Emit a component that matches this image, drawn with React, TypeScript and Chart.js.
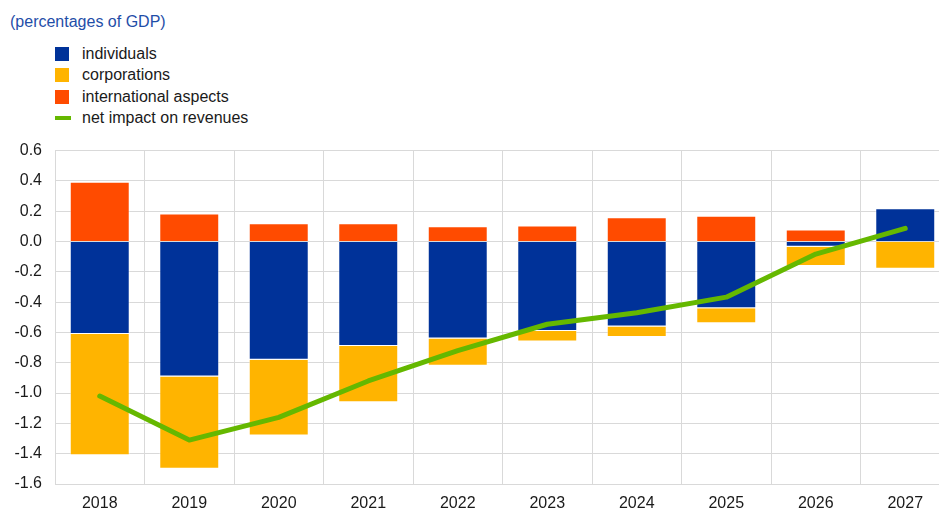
import React, { useEffect, useRef } from "react";
import { Chart, registerables } from "chart.js";

Chart.register(...registerables);

const categories = ["2018", "2019", "2020", "2021", "2022", "2023", "2024", "2025", "2026", "2027"];
const individuals = [-0.61, -0.89, -0.78, -0.69, -0.64, -0.59, -0.56, -0.44, -0.035, 0.22];
const corporations = [-0.80, -0.61, -0.50, -0.37, -0.18, -0.07, -0.07, -0.10, -0.127, -0.18];
const internationalAspects = [0.395, 0.185, 0.12, 0.12, 0.10, 0.105, 0.16, 0.17, 0.08, 0];
const netImpact = [-1.02, -1.31, -1.16, -0.92, -0.72, -0.546, -0.47, -0.367, -0.083, 0.087];
const yTicks = [0.6, 0.4, 0.2, 0.0, -0.2, -0.4, -0.6, -0.8, -1.0, -1.2, -1.4, -1.6];

const titleText = "(percentages of GDP)";
const legendItems = [
  { label: "individuals", color: "#003299", kind: "box" },
  { label: "corporations", color: "#ffb400", kind: "box" },
  { label: "international aspects", color: "#ff4b00", kind: "box" },
  { label: "net impact on revenues", color: "#65b800", kind: "line" },
];

const FONT = "Arial, 'Liberation Sans', Helvetica, sans-serif";

export default function App() {
  const ref = useRef<HTMLCanvasElement | null>(null);

  useEffect(() => {
    if (!ref.current) return;
    const barBorder = "rgba(255,255,255,0.45)";
    const chart = new Chart(ref.current, {
      type: "bar",
      data: {
        labels: categories,
        datasets: [
          {
            type: "line",
            label: legendItems[3].label,
            data: netImpact,
            borderColor: legendItems[3].color,
            backgroundColor: legendItems[3].color,
            borderWidth: 5,
            pointRadius: 0,
            tension: 0,
            borderCapStyle: "round",
            borderJoinStyle: "round",
            order: 0,
          } as any,
          {
            label: legendItems[0].label,
            data: individuals,
            backgroundColor: legendItems[0].color,
            borderColor: barBorder,
            borderWidth: 1,
            stack: "s",
            order: 1,
          },
          {
            label: legendItems[1].label,
            data: corporations,
            backgroundColor: legendItems[1].color,
            borderColor: barBorder,
            borderWidth: 1,
            stack: "s",
            order: 1,
          },
          {
            label: legendItems[2].label,
            data: internationalAspects,
            backgroundColor: legendItems[2].color,
            borderColor: barBorder,
            borderWidth: 1,
            stack: "s",
            order: 1,
          },
        ],
      },
      options: {
        animation: false,
        responsive: false,
        maintainAspectRatio: false,
        devicePixelRatio: 1,
        layout: { padding: { top: 19, right: 0, bottom: 0, left: 0 } },
        plugins: { legend: { display: false }, tooltip: { enabled: false }, title: { display: false } },
        datasets: { bar: { barPercentage: 0.67, categoryPercentage: 1 } },
        scales: {
          x: {
            stacked: true,
            grid: { color: "#d9d9d9", lineWidth: 1, offset: true, drawTicks: false },
            border: { display: true, color: "#d9d9d9" },
            ticks: { color: "#1a1a1a", font: { family: FONT, size: 16 }, padding: 10, maxRotation: 0 },
            afterFit: (s: any) => { s.height = 29; },
          },
          y: {
            stacked: true,
            min: -1.6,
            max: 0.6,
            afterBuildTicks: (s: any) => { s.ticks = yTicks.map((v) => ({ value: v })); },
            grid: { color: "#d9d9d9", lineWidth: 1, drawTicks: false },
            border: { display: true, color: "#d9d9d9" },
            ticks: {
              color: "#1a1a1a",
              font: { family: FONT, size: 16 },
              padding: 13,
              callback: (v: any) => Number(v).toFixed(1),
            },
            afterFit: (s: any) => { s.width = 55; },
          },
        },
      },
    });
    return () => chart.destroy();
  }, []);

  return (
    <div style={{ position: "fixed", left: 0, top: 0, width: 939, height: 509, overflow: "hidden", background: "#fff", fontFamily: FONT }}>
      <div style={{ position: "absolute", left: 10, top: 13, fontSize: 16, lineHeight: "18px", color: "#1f4ea8", whiteSpace: "nowrap" }}>
        {titleText}
      </div>
      {legendItems.map((it, i) => {
        const cy = 54 + i * 21.33;
        return (
          <div key={it.label} style={{ position: "absolute", left: 0, top: cy - 10, height: 20, width: 400 }}>
            {it.kind === "box" ? (
              <div style={{ position: "absolute", left: 55, top: 3, width: 14, height: 14, background: it.color }} />
            ) : (
              <div style={{ position: "absolute", left: 55, top: 8, width: 16, height: 4, background: it.color }} />
            )}
            <div style={{ position: "absolute", left: 82, top: 0, fontSize: 16, lineHeight: "20px", color: "#1a1a1a", whiteSpace: "nowrap" }}>
              {it.label}
            </div>
          </div>
        );
      })}
      <canvas ref={ref} width={950} height={385} style={{ position: "absolute", left: 0, top: 128, width: 950, height: 385 }} />
    </div>
  );
}
